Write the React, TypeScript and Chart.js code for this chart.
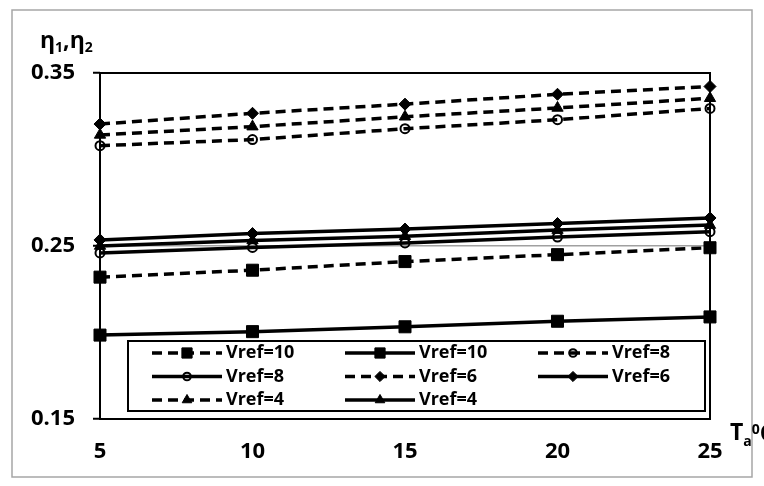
import React, { useEffect, useRef } from 'react';
import { Chart, registerables } from 'chart.js';
import { drawPoint } from 'chart.js/helpers';

Chart.register(...registerables);

// Ambient temperature (°C) on the x axis
const temperatures = [5, 10, 15, 20, 25];
const xTicks = [5, 10, 15, 20, 25];
const yTicks = [0.15, 0.25, 0.35];

// Efficiencies η1 (dashed) and η2 (solid) for each reference wind speed
const eta1Vref10 = [0.232, 0.236, 0.241, 0.245, 0.249];
const eta2Vref10 = [0.1985, 0.2005, 0.2033, 0.2065, 0.209];
const eta1Vref8 = [0.308, 0.3115, 0.3178, 0.323, 0.3295];
const eta2Vref8 = [0.246, 0.2492, 0.2518, 0.2552, 0.2583];
const eta1Vref6 = [0.3205, 0.3267, 0.332, 0.3377, 0.3422];
const eta2Vref6 = [0.2535, 0.2572, 0.2598, 0.263, 0.2662];
const eta1Vref4 = [0.3142, 0.319, 0.3247, 0.3298, 0.3354];
const eta2Vref4 = [0.25, 0.2532, 0.2556, 0.2592, 0.2621];

const seriesLabels = ['Vref=10', 'Vref=10', 'Vref=8', 'Vref=8', 'Vref=6', 'Vref=6', 'Vref=4', 'Vref=4'];
const seriesValues = [eta1Vref10, eta2Vref10, eta1Vref8, eta2Vref8, eta1Vref6, eta2Vref6, eta1Vref4, eta2Vref4];

const FONT = "'Open Sans', 'Noto Sans', 'DejaVu Sans', sans-serif";
const DASH = [10, 6];

type MarkerStyle = { pointStyle: string; radius: number; fill: string; borderWidth: number };

const markerFor = (i: number): MarkerStyle => {
  const kind = Math.floor(i / 2);
  if (kind === 0) return { pointStyle: 'rect', radius: 8.5, fill: '#000', borderWidth: 1 };
  if (kind === 1) return { pointStyle: 'circle', radius: 4.5, fill: 'rgba(0,0,0,0)', borderWidth: 2 };
  if (kind === 2) return { pointStyle: 'rectRot', radius: 6, fill: '#000', borderWidth: 1 };
  return { pointStyle: 'triangle', radius: 6.5, fill: '#000', borderWidth: 1 };
};
const isDashed = (i: number) => i % 2 === 0;

const pagePlugin = {
  id: 'pageFrame',
  beforeDraw(chart: any) {
    const { ctx, width, height } = chart;
    ctx.save();
    ctx.fillStyle = '#ffffff';
    ctx.fillRect(0, 0, width, height);
    ctx.strokeStyle = '#a6a6a6';
    ctx.lineWidth = 1.5;
    ctx.strokeRect(12, 10, 740, 467);
    ctx.restore();
  },
  beforeDatasetsDraw(chart: any) {
    const { ctx, chartArea } = chart;
    const { left, top, right, bottom } = chartArea;
    ctx.save();
    ctx.strokeStyle = '#000';
    ctx.lineWidth = 2;
    ctx.strokeRect(left, top, right - left, bottom - top);
    ctx.restore();
  },
  afterDatasetsDraw(chart: any) {
    const { ctx, chartArea } = chart;
    const bx = chartArea.left + 28;
    const by = chartArea.top + 268;
    const bw = 577;
    const bh = 70;
    ctx.save();
    ctx.fillStyle = '#fff';
    ctx.fillRect(bx, by, bw, bh);
    ctx.strokeStyle = '#000';
    ctx.lineWidth = 2;
    ctx.strokeRect(bx, by, bw, bh);

    const colX = [bx + 24, bx + 217, bx + 410];
    const rowY = [by + 12, by + 35.5, by + 59];
    seriesLabels.forEach((label, i) => {
      const x0 = colX[i % 3];
      const y = rowY[Math.floor(i / 3)];
      ctx.strokeStyle = '#000';
      ctx.lineWidth = 3.5;
      ctx.setLineDash(isDashed(i) ? DASH : []);
      ctx.beginPath();
      ctx.moveTo(x0, y);
      ctx.lineTo(x0 + 70, y);
      ctx.stroke();
      ctx.setLineDash([]);
      const m = markerFor(i);
      ctx.fillStyle = m.fill;
      ctx.strokeStyle = '#000';
      ctx.lineWidth = m.borderWidth;
      drawPoint(ctx, { pointStyle: m.pointStyle, rotation: 0, radius: m.radius * 0.85, borderWidth: m.borderWidth } as any, x0 + 35, y);
      ctx.fillStyle = '#000';
      ctx.font = `bold 18px ${FONT}`;
      ctx.textAlign = 'left';
      ctx.textBaseline = 'middle';
      ctx.fillText(label, x0 + 74, y);
    });
    ctx.restore();
  },
  afterDraw(chart: any) {
    const { ctx } = chart;
    ctx.save();
    ctx.fillStyle = '#000';
    ctx.textBaseline = 'alphabetic';
    ctx.textAlign = 'left';
    const big = `bold 23px ${FONT}`;
    const small = `bold 14px ${FONT}`;

    // y axis title: η1,η2
    let x = 40;
    const parts: [string, string, number][] = [
      ['η', big, 48],
      ['1', small, 52],
      [',', big, 48],
      ['η', big, 48],
      ['2', small, 52],
    ];
    for (const [t, f, y] of parts) {
      ctx.font = f;
      ctx.fillText(t, x, y);
      x += ctx.measureText(t).width;
    }

    // x axis title: Ta 0C
    x = 730;
    const xparts: [string, string, number][] = [
      ['T', big, 440],
      ['a', small, 446],
      ['0', small, 434],
      ['C', big, 441],
    ];
    for (const [t, f, y] of xparts) {
      ctx.font = f;
      ctx.fillText(t, x, y);
      x += ctx.measureText(t).width;
    }
    ctx.restore();
  },
};

export default function App() {
  const canvasRef = useRef<HTMLCanvasElement | null>(null);

  useEffect(() => {
    const canvas = canvasRef.current;
    if (!canvas) return;

    const datasets = seriesValues.map((values, i) => {
      const m = markerFor(i);
      return {
        label: seriesLabels[i],
        data: temperatures.map((t, k) => ({ x: t, y: values[k] })),
        borderColor: '#000',
        backgroundColor: m.fill,
        borderWidth: 3.5,
        borderDash: isDashed(i) ? DASH : [],
        pointStyle: m.pointStyle,
        pointRadius: m.radius,
        pointBorderWidth: m.borderWidth,
        pointBackgroundColor: m.fill,
        pointBorderColor: '#000',
        tension: 0,
        clip: false,
      };
    });

    const chart = new Chart(canvas, {
      type: 'line',
      data: { datasets } as any,
      plugins: [pagePlugin],
      options: {
        animation: false,
        responsive: false,
        devicePixelRatio: 1,
        layout: { padding: { top: 73, right: 54, left: 0, bottom: 0 } },
        plugins: { legend: { display: false }, tooltip: { enabled: false } },
        scales: {
          x: {
            type: 'linear',
            min: 5,
            max: 25,
            afterBuildTicks: (s: any) => {
              s.ticks = xTicks.map((v) => ({ value: v }));
            },
            afterFit: (s: any) => {
              s.height = 67;
            },
            grid: { display: false, drawTicks: false },
            border: { display: false },
            ticks: {
              padding: 20,
              color: '#000',
              font: { family: FONT, size: 22, weight: 'bold' },
              maxRotation: 0,
              callback: (v: any) => String(v),
            },
          },
          y: {
            type: 'linear',
            min: 0.15,
            max: 0.35,
            afterBuildTicks: (s: any) => {
              s.ticks = yTicks.map((v) => ({ value: v }));
            },
            afterFit: (s: any) => {
              s.width = 100;
            },
            grid: {
              color: (c: any) => (c.tick && Math.abs(c.tick.value - 0.25) < 1e-6 ? '#a0a0a0' : '#000'),
              lineWidth: 1.5,
              tickColor: '#000',
              tickWidth: 2,
              tickLength: 7,
            },
            border: { display: false },
            ticks: {
              padding: 18,
              color: '#000',
              font: { family: FONT, size: 22, weight: 'bold' },
              callback: (v: any) => Number(v).toFixed(2),
            },
          },
        },
      } as any,
    });

    return () => chart.destroy();
  }, []);

  return (
    <div style={{ position: 'fixed', left: 0, top: 0, width: 764, height: 486, background: '#fff' }}>
      <canvas ref={canvasRef} width={764} height={486} style={{ display: 'block' }} />
    </div>
  );
}
